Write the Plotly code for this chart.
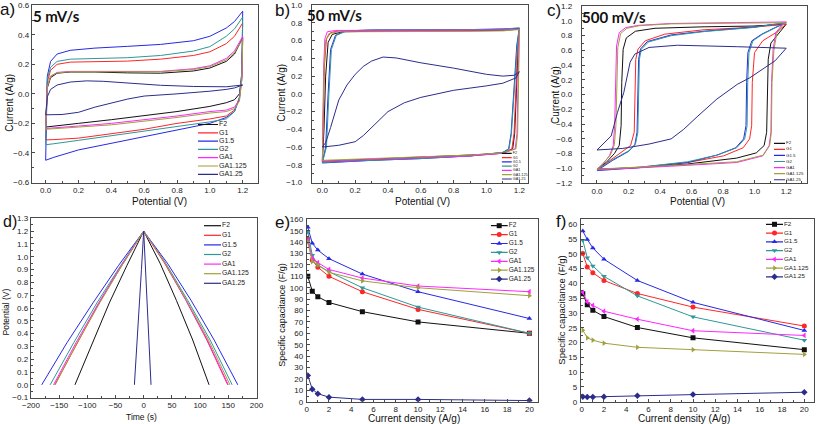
import plotly.graph_objects as go

FIG_W, FIG_H = 817, 424
FONT = "Liberation Sans, Arial, sans-serif"

names = ["F2", "G1", "G1.5", "G2", "GA1", "GA1.125", "GA1.25"]
colors = ["#111111", "#FF2626", "#2828E6", "#2E9898", "#FF26FF", "#A0A03C", "#2C2C8C"]
symbols = ["square", "circle", "triangle-up", "triangle-down", "triangle-left", "triangle-right", "diamond"]

# ---------------- (a) CV, 5 mV/s ----------------
a_pot = [0, 0.005, 0.01, 0.03, 0.07, 0.15, 0.3, 0.5, 0.7, 0.9, 1.0, 1.1, 1.15, 1.2,
         1.195, 1.18, 1.15, 1.1, 1.0, 0.8, 0.6, 0.4, 0.2, 0.05, 0]
a_F2 = [-0.225, -0.05, 0.04, 0.11, 0.14, 0.148, 0.148, 0.142, 0.14, 0.155, 0.175, 0.22, 0.27, 0.38,
        0.12, 0.0, -0.04, -0.06, -0.085, -0.12, -0.15, -0.175, -0.2, -0.22, -0.225]
a_G1 = [-0.312, -0.05, 0.08, 0.16, 0.2, 0.215, 0.22, 0.222, 0.235, 0.26, 0.285, 0.34, 0.39, 0.48,
        0.12, -0.03, -0.11, -0.15, -0.17, -0.2, -0.24, -0.27, -0.3, -0.31, -0.312]
a_G15 = [-0.45, -0.05, 0.12, 0.22, 0.27, 0.295, 0.31, 0.322, 0.335, 0.36, 0.39, 0.446, 0.49, 0.56,
         0.15, -0.03, -0.12, -0.16, -0.2, -0.245, -0.29, -0.335, -0.38, -0.43, -0.45]
a_G2 = [-0.345, -0.05, 0.1, 0.18, 0.22, 0.235, 0.24, 0.245, 0.26, 0.29, 0.32, 0.39, 0.44, 0.52,
        0.15, -0.02, -0.12, -0.17, -0.19, -0.22, -0.25, -0.285, -0.315, -0.338, -0.345]
a_GA1 = [-0.235, -0.05, 0.05, 0.12, 0.145, 0.152, 0.152, 0.15, 0.152, 0.17, 0.19, 0.24, 0.29, 0.39,
         0.1, -0.04, -0.09, -0.11, -0.12, -0.15, -0.175, -0.2, -0.218, -0.232, -0.235]
a_GA1125 = [-0.24, -0.05, 0.05, 0.12, 0.143, 0.15, 0.15, 0.148, 0.15, 0.165, 0.185, 0.23, 0.28, 0.37,
            0.1, -0.05, -0.1, -0.12, -0.13, -0.16, -0.185, -0.21, -0.225, -0.236, -0.24]
a_pot_GA125 = [0, 0.005, 0.01, 0.03, 0.07, 0.15, 0.25, 0.35, 0.5, 0.7, 0.9, 1.1, 1.2,
               1.15, 1.1, 1.0, 0.8, 0.6, 0.5, 0.4, 0.3, 0.2, 0.1, 0]
a_GA125 = [-0.142, -0.08, -0.02, 0.03, 0.06, 0.08, 0.088, 0.085, 0.072, 0.058, 0.05, 0.048, 0.06,
           0.04, 0.03, 0.018, 0.0, -0.015, -0.035, -0.06, -0.09, -0.125, -0.14, -0.142]

# ---------------- (b) CV, 50 mV/s ----------------
b_pot_F2 = [0, 0.01, 0.02, 0.035, 0.06, 0.12, 0.3, 0.6, 0.9, 1.1, 1.2, 1.192, 1.182, 1.172, 1.16, 1.1, 0.9, 0.6, 0.3, 0.1, 0]
b_F2 = [-0.76, -0.4, 0.2, 0.58, 0.67, 0.7, 0.705, 0.71, 0.71, 0.715, 0.73, 0.5, 0.0, -0.45, -0.62, -0.67, -0.69, -0.715, -0.735, -0.75, -0.76]
b_pot_G1 = [0, 0.005, 0.012, 0.025, 0.05, 0.1, 0.3, 0.6, 0.9, 1.1, 1.2, 1.19, 1.18, 1.168, 1.155, 1.1, 0.9, 0.6, 0.3, 0.1, 0]
b_G1 = [-0.77, -0.3, 0.3, 0.62, 0.69, 0.71, 0.715, 0.715, 0.72, 0.725, 0.735, 0.5, 0.0, -0.45, -0.62, -0.67, -0.7, -0.725, -0.745, -0.76, -0.77]
b_pot_G15 = [0, 0.02, 0.035, 0.05, 0.08, 0.14, 0.3, 0.6, 0.9, 1.1, 1.2, 1.185, 1.165, 1.15, 1.135, 1.1, 0.9, 0.6, 0.3, 0.1, 0]
b_G15 = [-0.78, -0.6, 0.0, 0.5, 0.66, 0.71, 0.72, 0.72, 0.725, 0.73, 0.74, 0.55, 0.0, -0.45, -0.62, -0.66, -0.7, -0.73, -0.75, -0.77, -0.78]
b_pot_G2 = [0, 0.025, 0.04, 0.055, 0.085, 0.15, 0.3, 0.6, 0.9, 1.1, 1.2, 1.188, 1.168, 1.152, 1.138, 1.1, 0.9, 0.6, 0.3, 0.1, 0]
b_G2 = [-0.775, -0.6, 0.0, 0.5, 0.66, 0.71, 0.72, 0.72, 0.725, 0.73, 0.745, 0.55, 0.0, -0.45, -0.62, -0.66, -0.7, -0.73, -0.75, -0.765, -0.775]
b_pot_GA1 = [0, 0.003, 0.008, 0.015, 0.03, 0.08, 0.3, 0.6, 0.9, 1.1, 1.2, 1.197, 1.192, 1.186, 1.175, 1.1, 0.9, 0.6, 0.3, 0.1, 0]
b_GA1 = [-0.76, -0.3, 0.3, 0.62, 0.7, 0.715, 0.715, 0.715, 0.72, 0.72, 0.73, 0.5, 0.0, -0.45, -0.62, -0.67, -0.7, -0.72, -0.74, -0.755, -0.76]
b_pot_GA1125 = [0, 0.003, 0.01, 0.02, 0.04, 0.1, 0.3, 0.6, 0.9, 1.1, 1.2, 1.199, 1.196, 1.19, 1.18, 1.1, 0.9, 0.6, 0.3, 0.1, 0]
b_GA1125 = [-0.75, -0.3, 0.3, 0.6, 0.68, 0.7, 0.7, 0.705, 0.705, 0.71, 0.725, 0.5, 0.0, -0.45, -0.62, -0.665, -0.69, -0.71, -0.73, -0.745, -0.75]
b_pot_GA125 = [0, 0.02, 0.05, 0.1, 0.15, 0.2, 0.25, 0.3, 0.37, 0.45, 0.6, 0.8, 1.0, 1.1, 1.17, 1.2,
               1.18, 1.1, 1.0, 0.8, 0.6, 0.5, 0.4, 0.35, 0.3, 0.25, 0.2, 0.1, 0]
b_GA125 = [-0.6, -0.55, -0.38, -0.07, 0.1, 0.22, 0.31, 0.37, 0.415, 0.405, 0.35, 0.29, 0.22, 0.2, 0.21, 0.25,
           0.18, 0.12, 0.09, 0.04, -0.04, -0.1, -0.2, -0.29, -0.39, -0.47, -0.54, -0.58, -0.6]

# ---------------- (c) CV, 500 mV/s ----------------
c_pot_F2 = [0, 0.058, 0.11, 0.141, 0.153, 0.157, 0.166, 0.186, 0.244, 0.368, 0.679, 0.989, 1.2,
            1.155, 1.103, 1.086, 1.08, 1.076, 1.06, 1.01, 0.886, 0.575, 0.265, 0]
c_F2 = [-1.01, -0.92, -0.8, -0.69, -0.42, 0.165, 0.616, 0.77, 0.86, 0.9, 0.92, 0.93, 0.955,
        0.84, 0.7, 0.48, 0.03, -0.51, -0.69, -0.79, -0.86, -0.94, -0.99, -1.01]
c_pot_G1 = [0, 0.079, 0.161, 0.213, 0.236, 0.242, 0.246, 0.26, 0.306, 0.43, 0.679, 0.989, 1.2,
            1.134, 1.051, 0.999, 0.985, 0.981, 0.968, 0.927, 0.803, 0.575, 0.265, 0]
c_G1 = [-1.02, -0.9, -0.78, -0.69, -0.51, -0.06, 0.48, 0.616, 0.73, 0.82, 0.88, 0.914, 0.955,
        0.84, 0.73, 0.57, 0.165, -0.42, -0.6, -0.72, -0.83, -0.92, -0.985, -1.02]
c_pot_G15 = [0, 0.1, 0.2, 0.24, 0.254, 0.26, 0.264, 0.276, 0.32, 0.47, 0.68, 0.99, 1.2,
             1.13, 1.045, 0.982, 0.957, 0.949, 0.945, 0.93, 0.88, 0.76, 0.575, 0.265, 0]
c_G15 = [-1.03, -0.89, -0.77, -0.68, -0.51, -0.06, 0.48, 0.62, 0.72, 0.81, 0.86, 0.915, 0.975,
         0.91, 0.82, 0.73, 0.57, 0.165, -0.42, -0.6, -0.72, -0.82, -0.92, -0.99, -1.03]
c_pot_G2 = [0, 0.1, 0.203, 0.244, 0.259, 0.265, 0.269, 0.281, 0.327, 0.472, 0.679, 0.989, 1.2,
            1.134, 1.051, 0.989, 0.964, 0.956, 0.952, 0.937, 0.886, 0.762, 0.575, 0.265, 0]
c_G2 = [-1.02, -0.88, -0.76, -0.67, -0.51, -0.06, 0.48, 0.616, 0.715, 0.8, 0.855, 0.91, 0.977,
        0.91, 0.82, 0.73, 0.57, 0.165, -0.42, -0.6, -0.72, -0.82, -0.91, -0.985, -1.02]
c_pot_GA1 = [0, 0.037, 0.079, 0.103, 0.112, 0.116, 0.124, 0.141, 0.182, 0.265, 0.472, 0.886, 1.2,
             1.175, 1.134, 1.117, 1.107, 1.103, 1.092, 1.051, 0.886, 0.472, 0.161, 0]
c_GA1 = [-1.02, -0.94, -0.83, -0.69, -0.42, 0.165, 0.66, 0.84, 0.91, 0.94, 0.965, 0.977, 0.986,
         0.95, 0.84, 0.616, 0.165, -0.51, -0.69, -0.83, -0.92, -0.97, -1.0, -1.02]
c_pot_GA1125 = [0, 0.04, 0.085, 0.11, 0.12, 0.124, 0.132, 0.15, 0.19, 0.27, 0.472, 0.886, 1.2,
                1.178, 1.14, 1.122, 1.11, 1.106, 1.095, 1.055, 0.886, 0.472, 0.161, 0]
c_GA1125 = [-1.01, -0.93, -0.82, -0.68, -0.42, 0.165, 0.64, 0.83, 0.9, 0.935, 0.96, 0.97, 0.975,
            0.94, 0.83, 0.6, 0.165, -0.51, -0.69, -0.82, -0.91, -0.96, -0.99, -1.01]
c_pot_GA125 = [0, 0.09, 0.13, 0.17, 0.21, 0.24, 0.33, 0.51, 0.89, 1.2,
               1.13, 1.05, 0.97, 0.89, 0.76, 0.64, 0.55, 0.47, 0.33, 0.16, 0]
c_GA125 = [-0.75, -0.56, -0.24, 0.03, 0.44, 0.55, 0.64, 0.67, 0.65, 0.63,
           0.46, 0.35, 0.23, 0.14, -0.06, -0.29, -0.47, -0.6, -0.67, -0.73, -0.75]

# ---------------- (d) galvanostatic charge/discharge ----------------
d_V = [0, 0.33, 0.64, 0.93, 1.2, 0.95, 0.66, 0.35, 0]
d_t_F2 = [-122, -91, -61, -30, 0, 29, 58, 87, 116]
d_t_G1 = [-158, -118, -79, -39, 0, 37, 75, 112, 149]
d_t_G15 = [-181, -136, -90, -45, 0, 42, 84, 125, 167]
d_t_G2 = [-166, -124, -83, -41, 0, 39, 78, 118, 157]
d_t_GA1 = [-160, -120, -80, -40, 0, 38, 75, 113, 150]
d_t_GA1125 = [-157, -118, -78, -39, 0, 38, 76, 115, 153]
d_t_GA125 = [-16.5, -12, -8, -4, 0, 3, 6.5, 10, 13]
d_V_GA125 = [0, 0.3, 0.6, 0.9, 1.2, 0.92, 0.62, 0.3, 0]

# ---------------- (e), (f) rate capability ----------------
cur_density = [0.1, 0.5, 1, 2, 5, 10, 20]
e_F2 = [110, 97, 92, 87, 79, 70, 60]
e_G1 = [143, 124, 118, 110, 96.5, 81, 60]
e_G15 = [153, 139, 133, 125.5, 112, 96.5, 73]
e_G2 = [149, 128.5, 120, 114, 100, 83, 60]
e_GA1 = [141.5, 126, 122, 116, 108.5, 101.5, 96.5]
e_GA1125 = [140, 123, 120, 113.5, 106, 100, 93]
e_GA125 = [23, 11, 7, 4, 2, 2, 1]

f_F2 = [36.5, 32.8, 30.9, 28.8, 25.1, 21.6, 17.6]
f_G1 = [50.1, 45.6, 43.6, 41, 36.6, 32, 25.6]
f_G15 = [57.7, 54.9, 52, 48.2, 41, 33.6, 24.1]
f_G2 = [54.6, 48.7, 45.9, 42.4, 35.8, 28.7, 20.8]
f_GA1 = [37, 33.8, 32.6, 30.6, 27.9, 24, 22.4]
f_GA1125 = [24.2, 21.6, 20.8, 19.8, 18.4, 17.6, 16]
f_GA125 = [1.7, 1.6, 1.6, 1.7, 2, 2.4, 3.2]

# ---------------- assemble series per panel ----------------
panel_series = {
    1: [(a_pot, a_F2), (a_pot, a_G1), (a_pot, a_G15), (a_pot, a_G2), (a_pot, a_GA1),
        (a_pot, a_GA1125), (a_pot_GA125, a_GA125)],
    2: [(b_pot_F2, b_F2), (b_pot_G1, b_G1), (b_pot_G15, b_G15), (b_pot_G2, b_G2),
        (b_pot_GA1, b_GA1), (b_pot_GA1125, b_GA1125), (b_pot_GA125, b_GA125)],
    3: [(c_pot_F2, c_F2), (c_pot_G1, c_G1), (c_pot_G15, c_G15), (c_pot_G2, c_G2),
        (c_pot_GA1, c_GA1), (c_pot_GA1125, c_GA1125), (c_pot_GA125, c_GA125)],
    4: [(d_t_F2, d_V), (d_t_G1, d_V), (d_t_G15, d_V), (d_t_G2, d_V), (d_t_GA1, d_V),
        (d_t_GA1125, d_V), (d_t_GA125, d_V_GA125)],
    5: [(cur_density, s) for s in [e_F2, e_G1, e_G15, e_G2, e_GA1, e_GA1125, e_GA125]],
    6: [(cur_density, s) for s in [f_F2, f_G1, f_G15, f_G2, f_GA1, f_GA1125, f_GA125]],
}


def ydom(py):
    return 1 - py / FIG_H


AX_COL = "#4a4a4a"
panels = {
    1: dict(box=(31.7, 258.3, 5, 182.7), xr=[-0.085, 1.295], yr=[-0.602, 0.602],
            xd=0.2, yd=0.2, x0=0, y0=-0.6, xf=".1f", yf=".1f", ystand=0),
    2: dict(box=(311.7, 528.3, 5, 182.7), xr=[-0.065, 1.255], yr=[-1.002, 1.002],
            xd=0.2, yd=0.2, x0=0, y0=-1.0, xf=".1f", yf=".1f", ystand=7),
    3: dict(box=(581.7, 806.7, 6, 183.3), xr=[-0.097, 1.33], yr=[-1.202, 1.202],
            xd=0.2, yd=0.2, x0=0, y0=-1.2, xf=".1f", yf=".1f", ystand=7),
    4: dict(box=(30.7, 256.7, 218.3, 397.7), xr=[-200.5, 200.5], yr=[-0.1004, 1.3004],
            xd=50, yd=0.1, x0=-200, y0=-0.1, xf="d", yf=".1f", ystand=0),
    5: dict(box=(306.7, 538.3, 219, 401.7), xr=[0, 20.8], yr=[0, 160.3],
            xd=2, yd=10, x0=0, y0=0, xf="d", yf="d", ystand=1),
    6: dict(box=(580.7, 814, 219, 401.7), xr=[-0.09, 20.87], yr=[0, 61.8],
            xd=2, yd=5, x0=0, y0=0, xf="d", yf="d", ystand=1),
}

fig = go.Figure()
layout = dict(
    width=FIG_W, height=FIG_H, margin=dict(l=0, r=0, t=0, b=0, autoexpand=False),
    paper_bgcolor="white", plot_bgcolor="rgba(0,0,0,0)",
    font=dict(family=FONT, color="#222"), showlegend=False,
)

for p, cfg in panels.items():
    x0, x1, y0, y1 = cfg["box"]
    sfx = "" if p == 1 else str(p)
    common = dict(ticks="inside", ticklen=3, tickwidth=1, tickcolor=AX_COL,
                  showline=True, linecolor=AX_COL, linewidth=1, mirror=True,
                  showgrid=False, zeroline=False, automargin=False,
                  tickfont=dict(size=8, family=FONT, color="#222"))
    layout["xaxis" + sfx] = dict(common, domain=[x0 / FIG_W, x1 / FIG_W], range=cfg["xr"],
                                 anchor="y" + sfx, dtick=cfg["xd"], tick0=cfg["x0"],
                                 tickformat=cfg["xf"],
                                 minor=dict(dtick=cfg["xd"] / 2, ticks="inside", ticklen=2,
                                            tickcolor=AX_COL, showgrid=False))
    layout["yaxis" + sfx] = dict(common, domain=[ydom(y1), ydom(y0)], range=cfg["yr"],
                                 anchor="x" + sfx, dtick=cfg["yd"], tick0=cfg["y0"],
                                 tickformat=cfg["yf"], ticklabelstandoff=cfg["ystand"],
                                 minor=dict(dtick=cfg["yd"] / 2, ticks="inside", ticklen=2,
                                            tickcolor=AX_COL, showgrid=False))
    with_markers = p in (5, 6)
    for i, (xs, ys) in enumerate(panel_series[p]):
        fig.add_trace(go.Scatter(
            x=xs, y=ys, xaxis="x" + sfx, yaxis="y" + sfx,
            mode="lines+markers" if with_markers else "lines",
            line=dict(color=colors[i], width=1),
            marker=dict(symbol=symbols[i], size=5, color=colors[i]),
            name=names[i], showlegend=False, hoverinfo="skip"))

# ---------------- in-panel legends (own small axes) ----------------
leg_cfg = {
    1: dict(x=198, y=124.5, dy=8.3, L=20, fs=7),
    2: dict(x=501.7, y=153.3, dy=4.28, L=10, fs=3.8),
    3: dict(x=774, y=143.3, dy=6.07, L=11, fs=4.4),
    4: dict(x=204, y=225.7, dy=9.6, L=17, fs=6.8),
    5: dict(x=490.7, y=225.7, dy=8.9, L=17, fs=6.5),
    6: dict(x=766, y=224.3, dy=8.75, L=17, fs=6.2),
}
for p, cfg in leg_cfg.items():
    n = len(names)
    w = min(60, FIG_W - 2 - cfg["x"])
    h = cfg["dy"] * n
    top = cfg["y"] - cfg["dy"] / 2
    k = str(6 + p)
    layout["xaxis" + k] = dict(domain=[cfg["x"] / FIG_W, (cfg["x"] + w) / FIG_W], range=[0, w],
                               visible=False, fixedrange=True, anchor="y" + k, automargin=False)
    layout["yaxis" + k] = dict(domain=[ydom(top + h), ydom(top)], range=[h, 0],
                               visible=False, fixedrange=True, anchor="x" + k, automargin=False)
    for i, nm in enumerate(names):
        yy = cfg["dy"] * (i + 0.5)
        fig.add_trace(go.Scatter(x=[0, cfg["L"]], y=[yy, yy], xaxis="x" + k, yaxis="y" + k,
                                 mode="lines", line=dict(color=colors[i], width=1.2),
                                 showlegend=False, hoverinfo="skip", cliponaxis=False))
        if p in (5, 6):
            fig.add_trace(go.Scatter(x=[cfg["L"] / 2], y=[yy], xaxis="x" + k, yaxis="y" + k,
                                     mode="markers",
                                     marker=dict(symbol=symbols[i], size=5, color=colors[i]),
                                     showlegend=False, hoverinfo="skip", cliponaxis=False))
        fig.add_trace(go.Scatter(x=[cfg["L"] + 1], y=[yy], xaxis="x" + k, yaxis="y" + k,
                                 mode="text", text=[nm], textposition="middle right",
                                 textfont=dict(size=cfg["fs"], family=FONT, color="#222"),
                                 showlegend=False, hoverinfo="skip", cliponaxis=False))

# ---------------- text annotations ----------------
ann = []


def add_text(txt, px, py, size, xanchor="center", yanchor="middle", angle=0, family=FONT, bold=False):
    ann.append(dict(text=f"<b>{txt}</b>" if bold else txt, x=px / FIG_W, y=ydom(py),
                    xref="paper", yref="paper", showarrow=False, xanchor=xanchor,
                    yanchor=yanchor, textangle=angle, borderpad=0,
                    font=dict(size=size, family=family, color="#111")))


# axis titles
add_text("Potential (V)", 159, 202, 10)
add_text("Current (A/g)", 8.7, 103, 10, angle=-90)
add_text("Potential (V)", 422, 201.7, 10)
add_text("Current (A/g)", 281.7, 93, 10, angle=-90)
add_text("Potential (V)", 697, 201.7, 10)
add_text("Current (A/g)", 555, 95, 10, angle=-90)
add_text("Time (s)", 141.7, 417, 8.5)
add_text("Potential (V)", 5.7, 311.7, 8.5, angle=-90)
add_text("Current density (A/g)", 414, 418.3, 10)
add_text("Specific capacitance (F/g)", 281.7, 315, 9, angle=-90)
add_text("Current density (A/g)", 684, 418.3, 10)
add_text("Specific capacitance (F/g)", 560.7, 310, 9.5, angle=-90)

# scan-rate labels
RATE_FONT = "Lato, Open Sans, sans-serif"
add_text("5 mV/s", 32, 16, 15, xanchor="left", family=RATE_FONT, bold=True)
add_text("50 mV/s", 306, 14.5, 15, xanchor="left", family=RATE_FONT, bold=True)
add_text("500 mV/s", 581, 17.5, 15, xanchor="left", family=RATE_FONT, bold=True)

# panel letters
for lt, px, py, fs in [("a)", 16, 9, 17), ("b)", 291, 10, 17), ("c)", 562, 11, 17),
                       ("d)", 18, 221, 16), ("e)", 291, 222.5, 17), ("f)", 567, 221.5, 17)]:
    add_text(lt, px, py, fs, xanchor="right")

layout["annotations"] = ann
fig.update_layout(**layout)
fig.write_html("out.html", config={"displayModeBar": False},
               post_script="document.body.style.margin='0px';document.body.style.padding='0px';")
